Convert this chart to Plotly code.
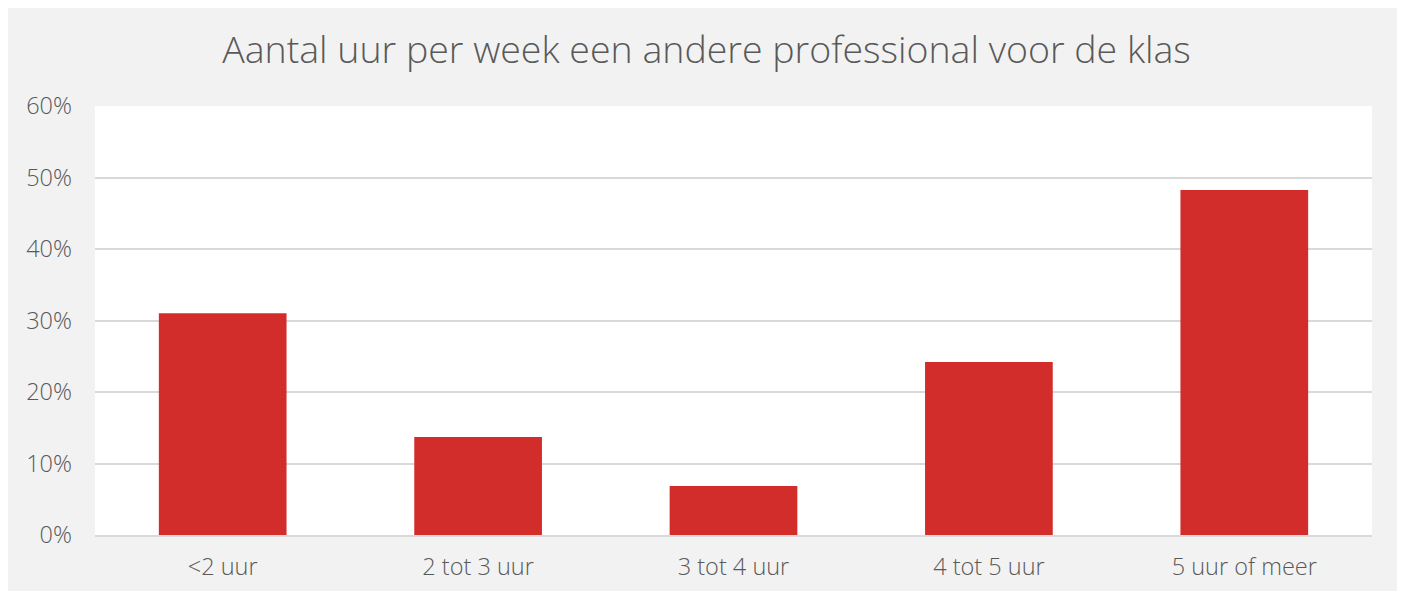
import plotly.graph_objects as go

categories = ["<2 uur", "2 tot 3 uur", "3 tot 4 uur", "4 tot 5 uur", "5 uur of meer"]
values = [31.0, 13.7, 6.85, 24.2, 48.25]
y_ticks = [0, 10, 20, 30, 40, 50, 60]
y_tick_labels = ["0%", "10%", "20%", "30%", "40%", "50%", "60%"]
title_text = "Aantal uur per week een andere professional voor de klas"

# page body has an 8px margin; figure starts at (8, 8)
W, H = 1397, 583
L, R, T, B = 87, 33, 98, 56

fig = go.Figure(go.Bar(x=categories, y=values, marker=dict(color="#d22d2a", line=dict(width=0)),
                       hoverinfo="x+y"))

font = "'Open Sans', sans-serif"
fig.update_layout(
    width=W, height=H,
    margin=dict(l=L, r=R, t=T, b=B),
    paper_bgcolor="#f2f2f2", plot_bgcolor="white",
    bargap=0.5,
    showlegend=False,
    title=dict(text=title_text, x=0.5, xref="container", xanchor="center", y=1 - 42 / H, yanchor="middle",
               font=dict(family=font, size=37.5, color="#595959", weight=300)),
    xaxis=dict(showgrid=False, showline=True, linecolor="#d9d9d9", linewidth=2, automargin=False,
               tickfont=dict(family=font, size=23.5, color="#595959", weight=300), ticks="", ticklabelstandoff=10),
    yaxis=dict(range=[0, 60], tickmode="array", tickvals=y_ticks, ticktext=y_tick_labels, automargin=False,
               showgrid=True, gridcolor="#d9d9d9", gridwidth=1.5,
               zeroline=False, showline=False, ticks="", ticklabelstandoff=22,
               tickfont=dict(family=font, size=23.5, color="#595959", weight=300)),
)

fig.write_html("out.html")
